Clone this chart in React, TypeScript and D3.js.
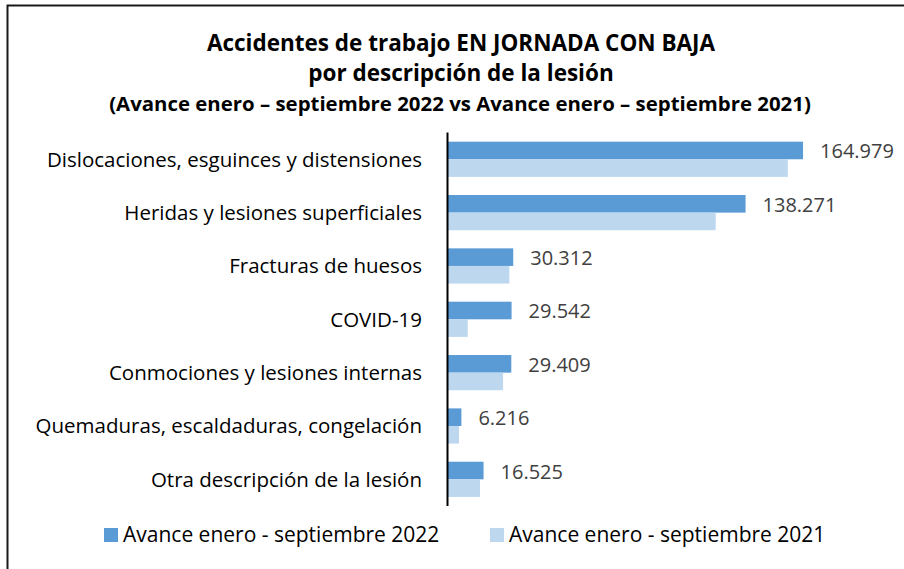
import React from "react";
import * as d3 from "d3";

const categories = [
  "Dislocaciones, esguinces y distensiones",
  "Heridas y lesiones superficiales",
  "Fracturas de huesos",
  "COVID-19",
  "Conmociones y lesiones internas",
  "Quemaduras, escaldaduras, congelación",
  "Otra descripción de la lesión",
];
const values2022 = [164979, 138271, 30312, 29542, 29409, 6216, 16525];
const values2021 = [157900, 124400, 28500, 9150, 25600, 5100, 14870];
const seriesNames = ["Avance enero - septiembre 2022", "Avance enero - septiembre 2021"];
const titleLines = [
  "Accidentes de trabajo EN JORNADA CON BAJA",
  "por descripción de la lesión",
  "(Avance enero – septiembre 2022 vs Avance enero – septiembre 2021)",
];

const W = 904;
const H = 569;
const C2022 = "#5B9BD5";
const C2021 = "#BDD7EE";
const FONT = "'Open Sans', Lato, sans-serif";

export default function App() {
  const x = d3.scaleLinear().domain([0, 180000]).range([448, 448 + 180000 * 0.002152]);
  const y = d3
    .scaleBand<string>()
    .domain(categories)
    .range([132.6, 506])
    .paddingInner(0.34)
    .paddingOuter(0.17);
  const inner = d3.scaleBand<string>().domain(["2022", "2021"]).range([0, y.bandwidth()]);
  const fmt = (v: number) => d3.format(",")(v).replace(/,/g, ".");

  return (
    <svg
      width={W}
      height={H}
      style={{ position: "absolute", left: 0, top: 0, background: "#fff" }}
    >
      <rect x={7.5} y={5.5} width={910} height={580} fill="#fff" stroke="#1a1a1a" strokeWidth={2} />
      <g fontFamily={FONT} fontWeight="bold" fill="#000" textAnchor="middle">
        <text x={461} y={51} fontSize={22.5}>{titleLines[0]}</text>
        <text x={461} y={81} fontSize={22.5}>{titleLines[1]}</text>
        <text x={460} y={111} fontSize={20.4}>{titleLines[2]}</text>
      </g>
      {categories.map((c, i) => {
        const y0 = y(c)!;
        return (
          <g key={c}>
            <rect
              x={x(0)}
              y={y0 + inner("2022")!}
              width={x(values2022[i]) - x(0)}
              height={inner.bandwidth()}
              fill={C2022}
            />
            <rect
              x={x(0)}
              y={y0 + inner("2021")!}
              width={x(values2021[i]) - x(0)}
              height={inner.bandwidth()}
              fill={C2021}
            />
            <text
              x={x(values2022[i]) + 17}
              y={y0 + inner("2022")! + inner.bandwidth() / 2 + 8}
              fontFamily={FONT}
              fontSize={20}
              fill="#404040"
            >
              {fmt(values2022[i])}
            </text>
            <text
              x={422}
              y={y0 + y.bandwidth() / 2 + 7.5}
              fontFamily={FONT}
              fontSize={20.5}
              fill="#000"
              textAnchor="end"
            >
              {c}
            </text>
          </g>
        );
      })}
      <line x1={447.5} x2={447.5} y1={132.6} y2={506} stroke="#000" strokeWidth={2} />
      <g fontFamily={FONT} fontSize={21} fill="#000">
        <rect x={104} y={528} width={14} height={14} fill={C2022} />
        <text x={123} y={542}>{seriesNames[0]}</text>
        <rect x={490} y={528} width={14} height={14} fill={C2021} />
        <text x={509} y={542}>{seriesNames[1]}</text>
      </g>
    </svg>
  );
}
